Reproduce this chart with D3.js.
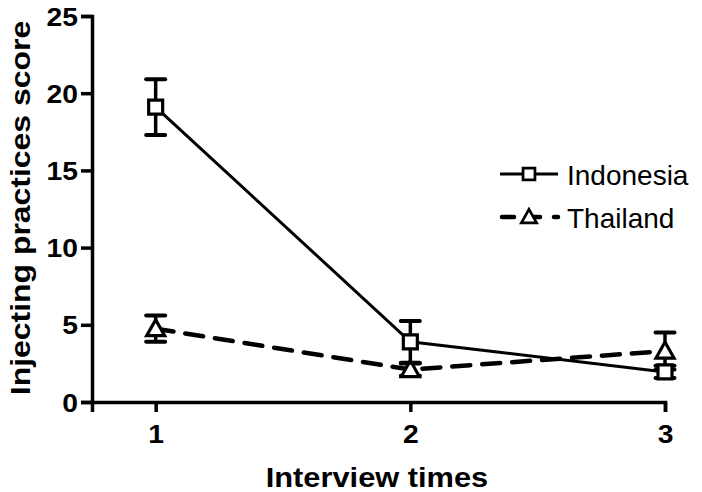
<!DOCTYPE html>
<html>
<head>
<meta charset="utf-8">
<script src="https://cdn.jsdelivr.net/npm/d3@7"></script>
<style>
  body { margin: 0; background: #fff; }
  svg text { font-family: Arial, "Liberation Sans", sans-serif; }
</style>
</head>
<body>
<div id="chart"></div>
<script>
var margin = {top: 16, right: 37, bottom: 90, left: 92};
var total_width = 702;
var total_height = 492;
var width = total_width - margin.left - margin.right;
var height = total_height - margin.top - margin.bottom;

// data
var times = [1, 2, 3];
var indonesia_mean = [19.1, 3.9, 1.95];
var indonesia_se = [1.8, 1.35, 0.4];
var thailand_mean = [4.75, 2.1, 3.3];
var thailand_se = [0.85, 0.4, 1.2];
var y_ticks = [0, 5, 10, 15, 20, 25];
var series_names = ['Indonesia', 'Thailand'];

// the original bold labels are a little wider than Arial
function widen(sel, factor){
    sel.each(function(){
        var len = this.getComputedTextLength();
        d3.select(this)
            .attr('textLength', len * factor)
            .attr('lengthAdjust', 'spacingAndGlyphs');
    });
}

var svg = d3.select('#chart')
    .append('svg')
        .attr('width', total_width)
        .attr('height', total_height)
    .append('g')
        .attr('transform', 'translate(' + margin.left + ',' + margin.top + ')');

var x_scale = d3.scaleLinear().domain([0.75, 3]).range([0, width]);
var y_scale = d3.scaleLinear().domain([0, 25]).range([height, 0]);

var x_axis = d3.axisBottom(x_scale).tickValues(times).tickFormat(d3.format('d')).tickSizeOuter(0).tickSize(10).tickPadding(13);
var y_axis = d3.axisLeft(y_scale).tickValues(y_ticks).tickSizeOuter(0).tickSize(11).tickPadding(3);

svg.append('g')
    .attr('class', 'x-axis')
    .attr('transform', 'translate(0,' + height + ')')
    .call(x_axis);

svg.append('g')
    .attr('class', 'y-axis')
    .call(y_axis);

svg.selectAll('.x-axis path, .y-axis path, .x-axis line, .y-axis line')
    .attr('stroke', '#000')
    .attr('stroke-width', 3.5);

svg.selectAll('.x-axis text, .y-axis text')
    .attr('fill', '#000')
    .style('font-size', '25px')
    .style('font-weight', 'bold');

svg.select('.y-axis').selectAll('text').attr('dy', '0.36em');
widen(svg.selectAll('.x-axis text, .y-axis text'), 1.13);

// axis titles
var y_title = svg.append('text')
    .attr('transform', 'translate(' + (30 - margin.left) + ',' + (208 - margin.top) + ')rotate(-90)')
    .attr('text-anchor', 'middle')
    .style('font-size', '28px')
    .style('font-weight', 'bold')
    .text('Injecting practices score');
widen(y_title, 1.14);

var x_title = svg.append('text')
    .attr('x', 377 - margin.left)
    .attr('y', 487 - margin.top)
    .attr('text-anchor', 'middle')
    .style('font-size', '28px')
    .style('font-weight', 'bold')
    .text('Interview times');
widen(x_title, 1.1);

function build(means, ses){
    return times.map(function(t, i){ return {t: t, m: means[i], se: ses[i]}; });
}
var indo = build(indonesia_mean, indonesia_se);
var thai = build(thailand_mean, thailand_se);

var line = d3.line()
    .x(function(d){ return x_scale(d.t); })
    .y(function(d){ return y_scale(d.m); });

var square_path = 'M-7,-7H7V7H-7Z';
var triangle_path = 'M0,-9L9,7H-9Z';

function drawSeries(data, dashed, shape){
    svg.append('path')
        .datum(data)
        .attr('d', line)
        .attr('fill', 'none')
        .attr('stroke', '#000')
        .attr('stroke-width', dashed ? 4.5 : 3)
        .attr('stroke-linecap', dashed ? 'round' : 'butt')
        .attr('stroke-dasharray', dashed ? '18,12' : null);

    var eb = svg.append('g');
    eb.selectAll('line.v')
        .data(data).enter().append('line')
            .attr('x1', function(d){ return x_scale(d.t); })
            .attr('x2', function(d){ return x_scale(d.t); })
            .attr('y1', function(d){ return y_scale(d.m + d.se); })
            .attr('y2', function(d){ return y_scale(d.m - d.se); })
            .attr('stroke', '#000')
            .attr('stroke-width', 3.5);
    [1, -1].forEach(function(s){
        eb.selectAll('line.c' + s)
            .data(data).enter().append('line')
                .attr('x1', function(d){ return x_scale(d.t) - 9.5; })
                .attr('x2', function(d){ return x_scale(d.t) + 9.5; })
                .attr('y1', function(d){ return y_scale(d.m + s * d.se); })
                .attr('y2', function(d){ return y_scale(d.m + s * d.se); })
                .attr('stroke', '#000')
                .attr('stroke-width', 4)
                .attr('stroke-linecap', 'round');
    });

    svg.selectAll(null)
        .data(data).enter().append('path')
            .attr('d', shape)
            .attr('transform', function(d){ return 'translate(' + x_scale(d.t) + ',' + y_scale(d.m) + ')'; })
            .attr('fill', '#fff')
            .attr('stroke', '#000')
            .attr('stroke-width', 3.2);
}

drawSeries(thai, true, triangle_path);
drawSeries(indo, false, square_path);

// legend
var legend = svg.append('g')
    .attr('transform', 'translate(' + (500 - margin.left) + ',' + (174 - margin.top) + ')');

var legend_items = [
    {name: series_names[0], dashed: false, shape: square_path},
    {name: series_names[1], dashed: true, shape: triangle_path}
];

legend.selectAll('g.item')
    .data(legend_items).enter().append('g')
        .attr('class', 'item')
        .attr('transform', function(d, i){ return 'translate(0,' + (i * 43) + ')'; })
    .each(function(d){
        var g = d3.select(this);
        g.append('line')
            .attr('x1', d.dashed ? 2 : 0)
            .attr('x2', 58)
            .attr('stroke', '#000')
            .attr('stroke-width', d.dashed ? 4.5 : 3)
            .attr('stroke-linecap', d.dashed ? 'round' : 'butt')
            .attr('stroke-dasharray', d.dashed ? '12,14' : null);
        g.append('path')
            .attr('d', d.shape)
            .attr('transform', 'translate(29,0)scale(0.85)')
            .attr('fill', '#fff')
            .attr('stroke', '#000')
            .attr('stroke-width', 3.2);
        g.append('text')
            .attr('x', 67)
            .attr('y', 11)
            .style('font-size', '28px')
            .text(d.name);
    });
</script>
</body>
</html>
